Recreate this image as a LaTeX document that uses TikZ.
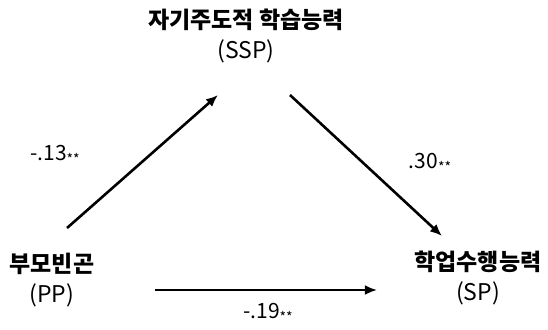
\documentclass[tikz,border=0pt]{standalone}
\usepackage{fontspec}
\setmainfont{Noto Sans CJK KR}
\usepackage{tikz}
\usetikzlibrary{arrows.meta, positioning, calc}

\newcommand{\sig}{\raisebox{-0.3ex}{\fontsize{7}{8}\selectfont **}}

\begin{document}
\begin{tikzpicture}[x=0.5pt, y=-0.5pt,
  var/.style={inner sep=0pt, align=center, font=\fontsize{11.5}{15}\selectfont},
  coef/.style={inner sep=0pt, font=\fontsize{10.5}{12}\selectfont},
  arr/.style={-{Latex[length=6pt,width=5pt]}, line width=1.3pt, draw=black},
  every node/.style={text=black}
]
  \useasboundingbox (0,0) rectangle (548,329);

  \node[var] (ssp) at (246,36)  {\textbf{자기주도적 학습능력}\\(SSP)};
  \node[var] (pp)  at (52,280)  {\textbf{부모빈곤}\\(PP)};
  \node[var] (sp)  at (478,278) {\textbf{학업수행능력}\\(SP)};

  % arrow ends
  \coordinate (pp-up)    at (67,228);
  \coordinate (ssp-in)   at (218,95);
  \coordinate (ssp-out)  at (290,95);
  \coordinate (sp-in)    at (442,236);
  \coordinate (pp-right) at (155,290);
  \coordinate (sp-left)  at (377,290);

  \draw[arr] (pp-up)    -- (ssp-in);
  \draw[arr] (ssp-out)  -- (sp-in);
  \draw[arr] (pp-right) -- (sp-left);

  \node[coef] (c13) at (55,155)  {-.13\sig};
  \node[coef] (c30) at (430,163) {.30\sig};
  \node[coef] (c19) at (268,313) {-.19\sig};
\end{tikzpicture}
\end{document}
